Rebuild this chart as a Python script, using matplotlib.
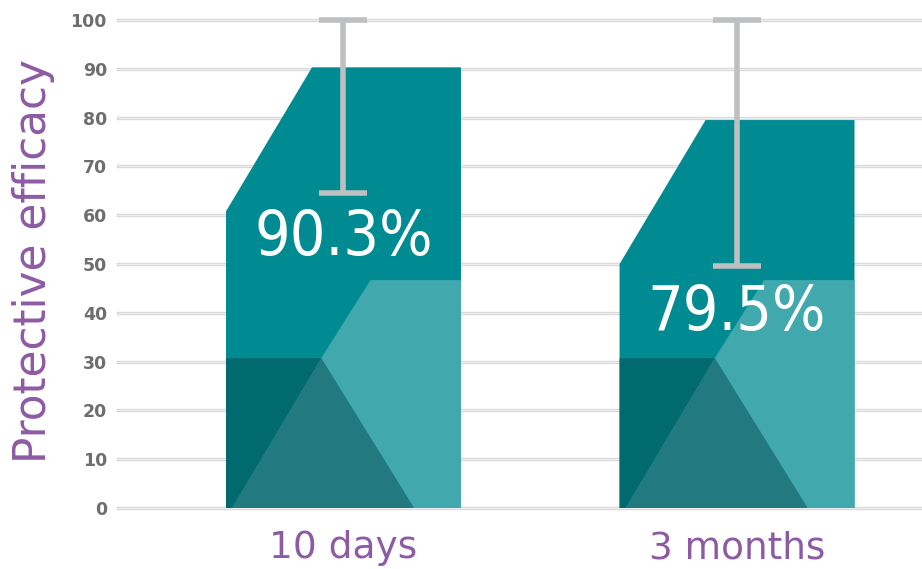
import matplotlib.pyplot as plt
import numpy as np
from matplotlib.patches import Polygon

# data
categories = ['10 days', '3 months']
efficacy = [90.3, 79.5]
ci_low = [64.5, 49.5]
ci_high = [100.0, 100.0]
value_labels = ['90.3%', '79.5%']
label_y = [55.3, 40.0]

# colours
purple = '#8D5BA4'
teal_main = '#008B92'
teal_light = '#41A8AE'
teal_dark = '#006A6F'
teal_mid = '#227A80'
grey_grid = '#d9d9d9'
grey_err = '#BEBFC1'
grey_tick = '#6d6e71'

fig = plt.figure(figsize=(9.22, 5.69), dpi=100)
ax = fig.add_axes([118 / 922, 61 / 569, 804 / 922, 488 / 569])

x = np.arange(len(categories))
w = 0.597

ax.set_xlim(-0.573, 1.470)
ax.set_ylim(0, 100)

# gridlines
for gy in range(0, 101, 10):
    ax.axhline(gy, color=grey_grid, lw=2.4, zorder=0, clip_on=False)
    ax.axhline(gy, color='#f4f4f4', lw=0.6, zorder=0, clip_on=False)

# faceted bars
for xi, v in zip(x, efficacy):
    L = xi - w / 2
    R = xi + w / 2
    cut_x = L + 0.366 * w
    mid = (L + 0.405 * w, 30.7)
    light_top = 46.7
    light_x = L + 0.615 * w
    bot_l = L + 0.025 * w
    bot_r = L + 0.80 * w
    # main shape
    ax.add_patch(Polygon([(L, 0), (L, v - 29.5), (cut_x, v), (R, v), (R, 0)],
                         closed=True, facecolor=teal_main, edgecolor='none', zorder=2))
    # light facet on right
    ax.add_patch(Polygon([mid, (light_x, light_top), (R, light_top), (R, 0), (bot_r, 0)],
                         closed=True, facecolor=teal_light, edgecolor='none', zorder=3))
    # dark facet bottom-left
    ax.add_patch(Polygon([(L, 0), (L, mid[1]), mid, (bot_l, 0)],
                         closed=True, facecolor=teal_dark, edgecolor='none', zorder=3))
    # mid triangle
    ax.add_patch(Polygon([mid, (bot_l, 0), (bot_r, 0)],
                         closed=True, facecolor=teal_mid, edgecolor='none', zorder=3))

# error bars
err = [np.array(efficacy) - np.array(ci_low), np.array(ci_high) - np.array(efficacy)]
eb = ax.errorbar(x, efficacy, yerr=err, fmt='none', ecolor=grey_err, elinewidth=4,
                 capsize=17, capthick=4, zorder=4)
for art in eb.lines[1]:
    art.set_clip_on(False)
for art in eb.lines[2]:
    art.set_clip_on(False)

# value labels
for xi, txt, ty in zip(x, value_labels, label_y):
    ax.text(xi, ty, txt, color='white', fontsize=45, ha='center', va='center',
            family='DejaVu Sans', fontstretch='condensed', zorder=5)

# axes styling
for s in ax.spines.values():
    s.set_visible(False)
ax.set_yticks(range(0, 101, 10))
ax.tick_params(axis='y', length=0, pad=8, labelsize=12.5, labelcolor=grey_tick)
for t in ax.get_yticklabels():
    t.set_fontweight('bold')
ax.set_xticks(x)
ax.set_xticklabels(categories)
ax.tick_params(axis='x', length=0, pad=16, labelsize=27, labelcolor=purple)

fig.text(34 / 922, 1 - 261 / 569, 'Protective efficacy', rotation=90, color=purple,
         fontsize=31.5, ha='center', va='center')

fig.savefig('out.png', dpi=100)
